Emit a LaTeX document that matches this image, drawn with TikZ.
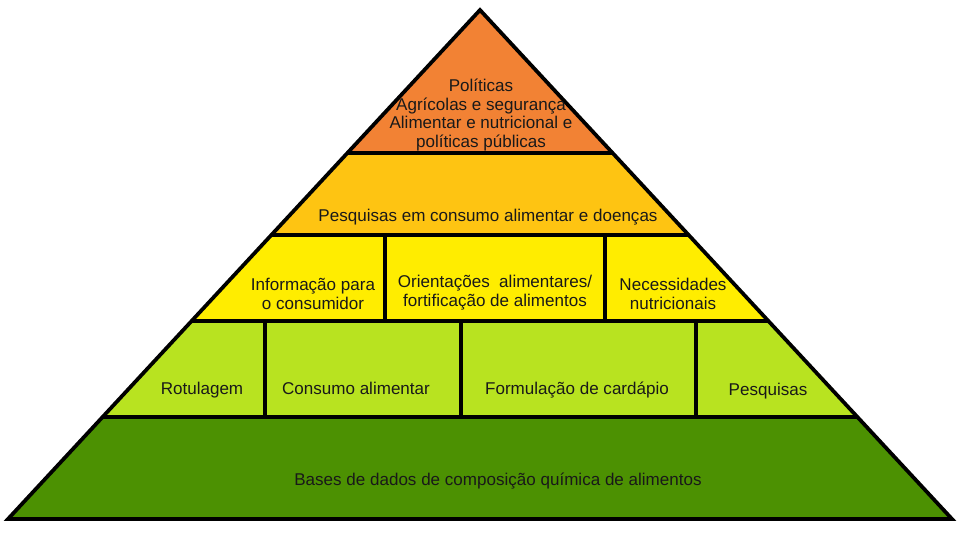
\documentclass[tikz,border=0pt]{standalone}
\usepackage{fontspec}
\setmainfont{Liberation Sans}
\definecolor{corTopo}{RGB}{242,130,52}
\definecolor{corOuro}{RGB}{254,196,18}
\definecolor{corAmarelo}{RGB}{255,237,0}
\definecolor{corVerdeClaro}{RGB}{184,227,32}
\definecolor{corVerde}{RGB}{76,145,2}
\tikzset{
  rotulo/.style={align=center,inner sep=0pt,text=black!90,
    font=\fontsize{9.7}{10.8}\selectfont},
  linha/.style={rotulo,anchor=base},
  borda/.style={line width=0.075cm}
}
\begin{document}
\begin{tikzpicture}[x=0.02cm,y=-0.02cm]
\useasboundingbox (0,0) rectangle (960,544);
\begin{scope}
\path[clip] (480,10) -- (952,519) -- (8,519) -- cycle;
\fill[corTopo] (0,0) rectangle (960,153);
\fill[corOuro] (0,153) rectangle (960,235);
\fill[corAmarelo] (0,235) rectangle (960,321);
\fill[corVerdeClaro] (0,321) rectangle (960,417);
\fill[corVerde] (0,417) rectangle (960,519);
\foreach \y in {153,235,321,417} {
	\draw[borda] (0,\y) -- (960,\y);
}
\foreach \x in {385,605} {
	\draw[borda] (\x,235) -- (\x,321);
}
\foreach \x in {265,461,696} {
	\draw[borda] (\x,321) -- (\x,417);
}
\end{scope}
\draw[borda] (480,10) -- (952,519) -- (8,519) -- cycle;
% textos
\node[rotulo] (politicas) at (481,115) {Políticas\\Agrícolas e segurança\\Alimentar e nutricional e\\políticas públicas};
\node[linha] (pesqdoencas) at (488,221) {Pesquisas em consumo alimentar e doenças};
\node[rotulo] (informacao) at (313,294) {Informação para\\o consumidor};
\node[rotulo] (orientacoes) at (495,293) {Orientações\ \ alimentares/\\fortificação de alimentos};
\node[rotulo] (necessidades) at (673,294) {Necessidades\\nutricionais};
\node[linha] (rotulagem) at (202,394) {Rotulagem};
\node[linha] (consumo) at (356,394) {Consumo alimentar};
\node[linha] (cardapio) at (577,394) {Formulação de cardápio};
\node[linha] (pesquisas) at (768,395) {Pesquisas};
\node[linha] (bases) at (498,485) {Bases de dados de composição química de alimentos};
\end{tikzpicture}
\end{document}
